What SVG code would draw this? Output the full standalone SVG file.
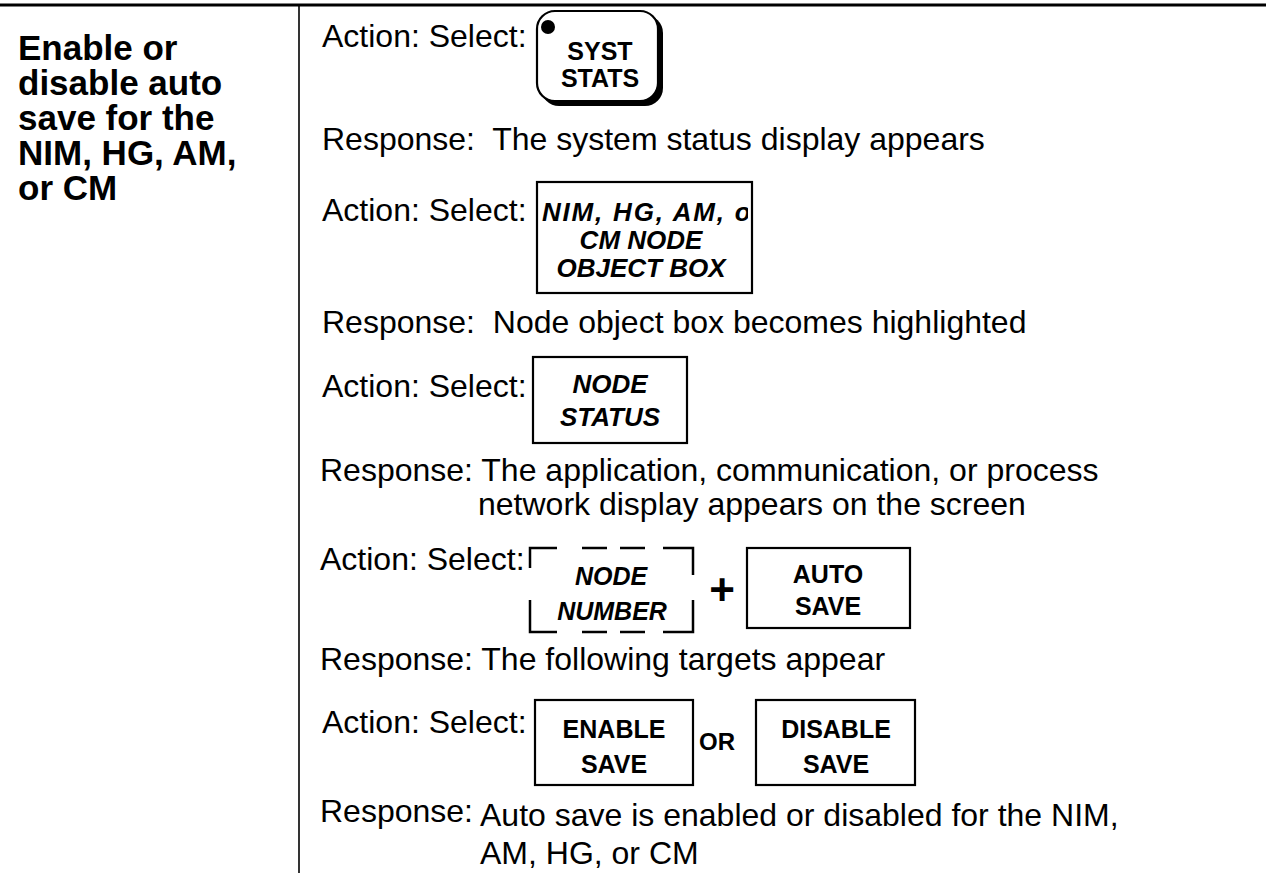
<svg xmlns="http://www.w3.org/2000/svg" width="1266" height="873" viewBox="0 0 1266 873">
<defs>
<style>
.t{font-family:"Liberation Sans",Arial,sans-serif;font-size:32px;fill:#000}
.title{font-family:"Liberation Sans",Arial,sans-serif;font-size:35px;font-weight:bold;fill:#000}
.k{font-family:"Liberation Sans",Arial,sans-serif;font-size:25px;font-weight:bold;fill:#000;text-anchor:middle}
.ki{font-family:"Liberation Sans",Arial,sans-serif;font-size:25px;font-weight:bold;font-style:italic;fill:#000;text-anchor:middle}
.box{fill:#fff;stroke:#000;stroke-width:2.2}
.dash{fill:none;stroke:#000;stroke-width:2.5}
</style>
<clipPath id="nimclip"><rect x="538" y="183" width="210" height="109"/></clipPath>
</defs>
<rect x="0" y="0" width="1266" height="873" fill="#fff"/>
<g id="table">
<line x1="0" y1="5" x2="1266" y2="5" stroke="#000" stroke-width="3"/>
<line x1="299" y1="4" x2="299" y2="873" stroke="#000" stroke-width="1.6"/>
</g>
<g id="title">
<text class="title" x="18" y="60">Enable or</text>
<text class="title" x="18" y="95">disable auto</text>
<text class="title" x="18" y="130">save for the</text>
<text class="title" x="18" y="165">NIM, HG, AM,</text>
<text class="title" x="18" y="200">or CM</text>
</g>
<g id="step1">
<text class="t" x="322" y="47">Action: Select:</text>
<g id="syst-stats">
<rect x="541" y="15" width="122" height="91" rx="18" fill="#000"/>
<rect x="537" y="11" width="121" height="90" rx="18" fill="#fff" stroke="#000" stroke-width="2.2"/>
<circle cx="548" cy="27" r="7" fill="#000"/>
<text class="k" x="600" y="60">SYST</text>
<text class="k" x="600" y="87">STATS</text>
</g>
<text class="t" x="322" y="150">Response:&#160; The system status display appears</text>
</g>
<g id="step2">
<text class="t" x="322" y="221">Action: Select:</text>
<g id="node-object-box">
<rect class="box" x="537" y="182" width="215" height="111"/>
<text class="ki" x="542" y="221" style="text-anchor:start;letter-spacing:1.8px;font-size:26px" clip-path="url(#nimclip)">NIM, HG, AM, or</text>
<text class="ki" x="641" y="249" style="font-size:26px">CM NODE</text>
<text class="ki" x="641" y="277" style="font-size:26px">OBJECT BOX</text>
</g>
<text class="t" x="322" y="333">Response:&#160; Node object box becomes highlighted</text>
</g>
<g id="step3">
<text class="t" x="322" y="397">Action: Select:</text>
<g id="node-status">
<rect class="box" x="533" y="357" width="154" height="86"/>
<text class="ki" x="610" y="393" style="font-size:26px">NODE</text>
<text class="ki" x="610" y="426" style="font-size:26px">STATUS</text>
</g>
<text class="t" x="320" y="481">Response: The application, communication, or process</text>
<text class="t" x="478" y="515">network display appears on the screen</text>
</g>
<g id="step4">
<text class="t" x="320" y="570">Action: Select:</text>
<g id="node-number">
<path class="dash" d="M530,568 V548 H557 M582,548 H607 M620,548 H645 M663,548 H693 V575 M530,600 V632 H557 M582,632 H607 M620,632 H645 M663,632 H693 V600"/>
<text class="ki" x="611" y="585">NODE</text>
<text class="ki" x="612" y="620">NUMBER</text>
</g>
<text id="plus" x="722" y="605" style="font-family:'Liberation Sans',Arial,sans-serif;font-size:44px;font-weight:bold;text-anchor:middle">+</text>
<g id="auto-save">
<rect class="box" x="747" y="548" width="163" height="80"/>
<text class="k" x="828" y="583">AUTO</text>
<text class="k" x="828" y="615">SAVE</text>
</g>
<text class="t" x="320" y="670">Response: The following targets appear</text>
</g>
<g id="step5">
<text class="t" x="322" y="733">Action: Select:</text>
<g id="enable-save">
<rect class="box" x="535" y="700" width="158" height="85"/>
<text class="k" x="614" y="738">ENABLE</text>
<text class="k" x="614" y="773">SAVE</text>
</g>
<text id="or" x="717" y="750" style="font-family:'Liberation Sans',Arial,sans-serif;font-size:24px;font-weight:bold;text-anchor:middle">OR</text>
<g id="disable-save">
<rect class="box" x="756" y="700" width="159" height="85"/>
<text class="k" x="836" y="738">DISABLE</text>
<text class="k" x="836" y="773">SAVE</text>
</g>
<text class="t" x="320" y="822">Response:</text>
<text class="t" x="480" y="826">Auto save is enabled or disabled for the NIM,</text>
<text class="t" x="480" y="864">AM, HG, or CM</text>
</g>
<g id="connectors"/>
</svg>
